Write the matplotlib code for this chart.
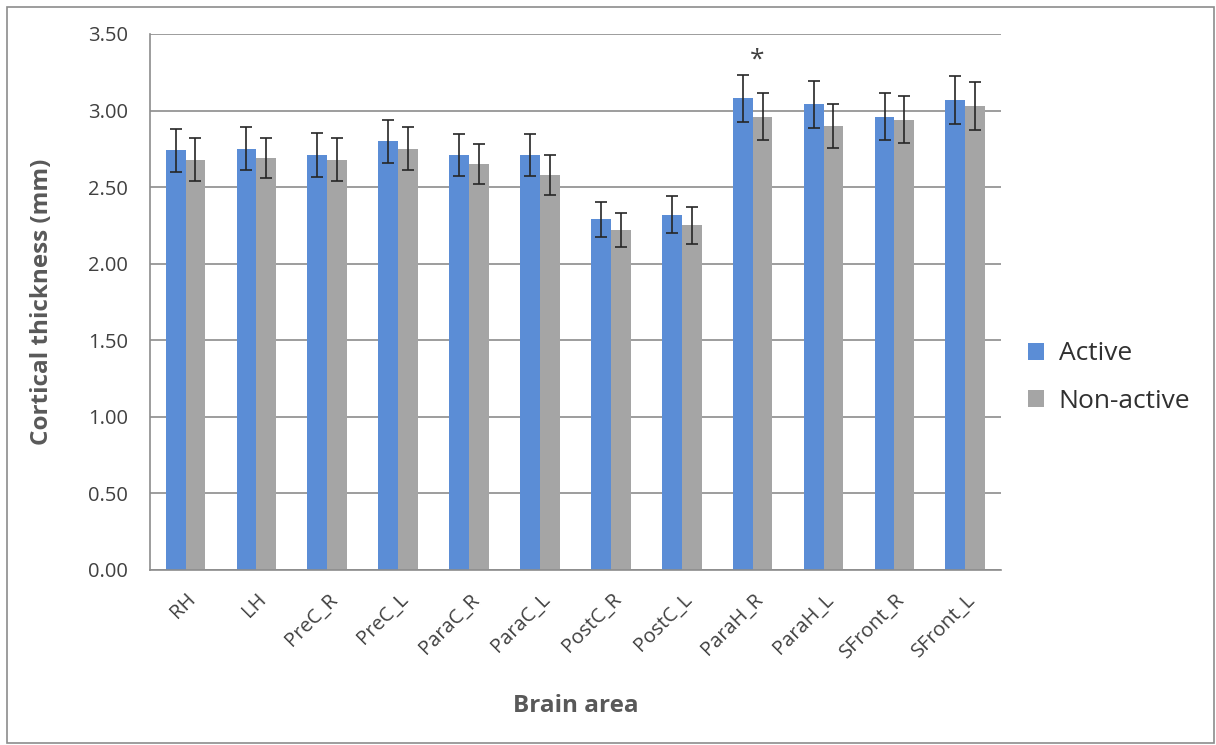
import matplotlib
matplotlib.use("Agg")
import matplotlib.pyplot as plt
import numpy as np
from matplotlib.patches import Rectangle

areas = ["RH", "LH", "PreC_R", "PreC_L", "ParaC_R", "ParaC_L",
         "PostC_R", "PostC_L", "ParaH_R", "ParaH_L", "SFront_R", "SFront_L"]
active = [2.74, 2.75, 2.71, 2.80, 2.71, 2.71, 2.29, 2.32, 3.08, 3.04, 2.96, 3.07]
active_err = [0.14, 0.14, 0.145, 0.14, 0.135, 0.135, 0.115, 0.12, 0.155, 0.155, 0.155, 0.155]
nonactive = [2.68, 2.69, 2.68, 2.75, 2.65, 2.58, 2.22, 2.25, 2.96, 2.90, 2.94, 3.03]
nonactive_err = [0.14, 0.13, 0.14, 0.14, 0.13, 0.13, 0.11, 0.12, 0.155, 0.145, 0.155, 0.155]
star_area = "ParaH_R"
star_y = 3.33

plt.rcParams['font.family'] = ['Open Sans', 'DejaVu Sans']

fig = plt.figure(figsize=(12.16, 7.45), dpi=100)
ax = fig.add_axes([0.1234, 0.2349, 0.6996, 0.7195])

x = np.arange(len(areas))
w = 0.28
ax.bar(x - w / 2, active, w, color="#5B8DD6", label="Active", zorder=2)
ax.bar(x + w / 2, nonactive, w, color="#A5A5A5", label="Non-active", zorder=2)
ax.errorbar(x - w / 2, active, yerr=active_err, fmt="none", ecolor="#262626",
            elinewidth=1.2, capsize=4, capthick=1.2, zorder=3)
ax.errorbar(x + w / 2, nonactive, yerr=nonactive_err, fmt="none", ecolor="#262626",
            elinewidth=1.2, capsize=4, capthick=1.2, zorder=3)

si = areas.index(star_area)
ax.text(x[si] + 0.06, star_y, "*", ha="center", va="center",
        fontsize=19, color="#404040")

ax.set_xlim(-0.5, len(areas) - 0.5)
ax.set_ylim(0, 3.5)
ax.set_yticks(np.arange(0, 3.51, 0.5))
ax.set_yticklabels([f"{v:.2f}" for v in np.arange(0, 3.51, 0.5)])
ax.yaxis.grid(True, color="#8C8C8C", linewidth=1.2, zorder=0)
ax.set_axisbelow(True)

ax.set_xticks(x)
ax.set_xticklabels(areas, rotation=45, ha="right", va="top", rotation_mode="anchor")
ax.tick_params(axis="x", length=0, pad=14, labelsize=14.5, labelcolor="#404040")
ax.tick_params(axis="y", length=0, pad=16, labelsize=14.5, labelcolor="#404040")

for s in ["top", "right"]:
    ax.spines[s].set_visible(False)
ax.spines["left"].set_color("#8C8C8C")
ax.spines["bottom"].set_color("#8C8C8C")
ax.spines["left"].set_linewidth(1.2)
ax.spines["bottom"].set_linewidth(1.2)

ax.set_ylabel("Cortical thickness (mm)", fontsize=17.5, fontweight="bold",
              color="#595959", labelpad=24)
ax.set_xlabel("Brain area", fontsize=17.5, fontweight="bold", color="#595959",
              labelpad=23)

fig.legend(loc="center left", bbox_to_anchor=(0.826, 0.493), frameon=False,
           fontsize=19, handlelength=0.6, handleheight=0.6, handletextpad=0.55,
           labelspacing=0.85, labelcolor="#303030")

fig.patches.append(Rectangle((0.0058, 0.0027), 0.9926, 0.988, transform=fig.transFigure,
                             fill=False, edgecolor="#8C8C8C", linewidth=1.2))

fig.savefig("out.png", dpi=100)
